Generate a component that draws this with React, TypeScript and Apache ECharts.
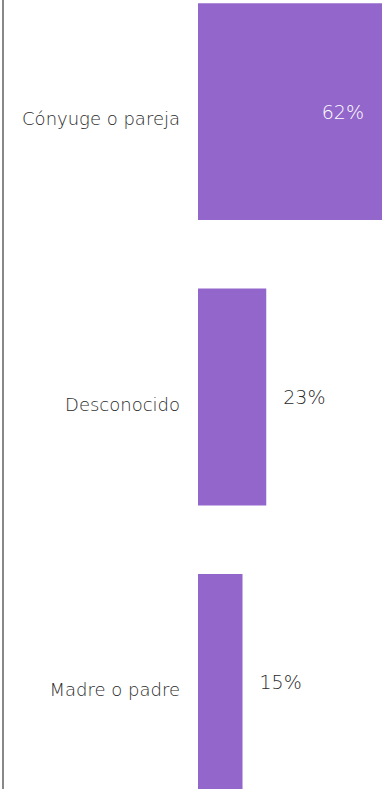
import React, { useEffect, useRef } from "react";
import * as echarts from "echarts";

const categories = ["Cónyuge o pareja", "Desconocido", "Madre o padre"];
const values = [62, 23, 15];
const valueLabels = ["62%", "23%", "15%"];

const OFFSET = 31;

export default function App() {
  const ref = useRef<HTMLDivElement>(null);
  useEffect(() => {
    if (!ref.current) return;
    const chart = echarts.init(ref.current, undefined, { renderer: "svg" });
    const font = "'DejaVu Sans ExtraLight', 'DejaVu Sans'";
    chart.setOption({
      animation: false,
      grid: { left: 198, right: 10, top: 0, bottom: 0, containLabel: false },
      xAxis: {
        type: "value",
        min: 0,
        max: 62,
        show: false,
      },
      yAxis: {
        type: "category",
        data: categories,
        inverse: true,
        axisLine: { show: false },
        axisTick: { show: false },
        splitLine: { show: false },
        axisLabel: {
          fontFamily: font,
          fontWeight: 200,
          fontSize: 18,
          lineHeight: 14,
          color: "#2a2a2a",
          margin: 18,
          verticalAlign: "top",
        },
      },
      graphic: [
        {
          type: "line",
          shape: { x1: 3, y1: OFFSET, x2: 3, y2: OFFSET + 789 },
          style: { stroke: "#888888", lineWidth: 2 },
        },
      ],
      series: [
        {
          type: "bar",
          barCategoryGap: "24%",
          itemStyle: { color: "#9366CB" },
          data: values.map((v, i) => ({
            value: v,
            label: {
              show: true,
              position: i === 0 ? "insideRight" : "right",
              distance: i === 0 ? 18 : 17,
              formatter: valueLabels[i],
              fontFamily: font,
              fontWeight: 200,
              fontSize: 19,
              color: i === 0 ? "#ffffff" : "#2a2a2a",
            },
          })),
        },
      ],
    });
    return () => chart.dispose();
  }, []);
  return (
    <div
      ref={ref}
      style={{ position: "fixed", left: 0, top: -OFFSET, width: 392, height: 856, background: "#fff" }}
    />
  );
}
